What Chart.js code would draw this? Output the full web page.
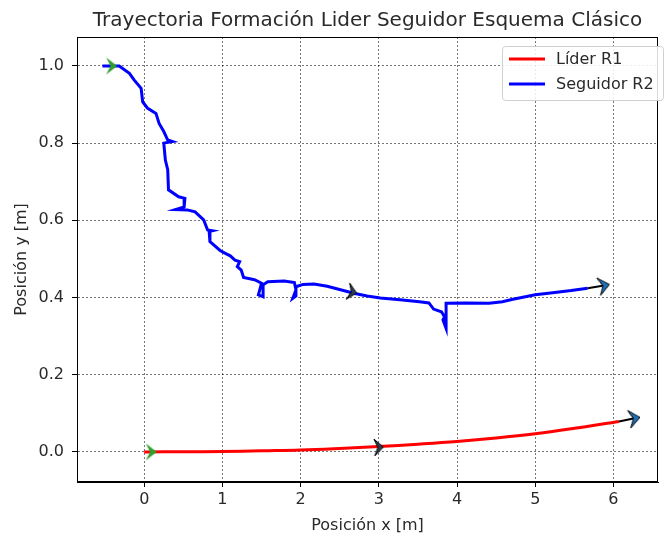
<!DOCTYPE html>
<html>
<head>
<meta charset="utf-8">
<script src="https://cdn.jsdelivr.net/npm/chart.js@4.4.1/dist/chart.umd.min.js"></script>
<style>
  body { margin: 0; background: #fff; }
  #wrap { width: 666px; height: 538px; }
</style>
</head>
<body>
<div id="wrap"><canvas id="trayectoria" width="666" height="538"></canvas></div>
<script>
// Trayectoria del líder (R1)
const liderX = [0, 0.5, 1, 1.5, 2, 2.5, 3, 3.5, 4, 4.5, 5, 5.5, 6.07];
const liderY = [0, 0.0005, 0.001, 0.003, 0.005, 0.009, 0.014, 0.02, 0.027, 0.036, 0.047, 0.061, 0.079];

// Trayectoria del seguidor (R2)
const seguidorX = [-0.535, -0.32, -0.19, -0.13, -0.04, -0.02, 0.04, 0.15, 0.19, 0.25, 0.30, 0.36, 0.25, 0.27, 0.30, 0.31,
  0.44, 0.52, 0.51, 0.40, 0.55, 0.65, 0.76, 0.81, 0.87, 0.83, 0.84, 0.97, 1.03, 1.10, 1.16, 1.22, 1.19, 1.24, 1.27,
  1.41, 1.50, 1.46, 1.52, 1.52, 1.58, 1.79, 1.92, 1.94, 1.90, 1.94, 1.94, 2.03, 2.17, 2.34, 2.51, 2.68, 2.85, 3.02,
  3.27, 3.52, 3.64, 3.70, 3.80, 3.84, 3.82, 3.86, 3.86, 3.86, 4.11, 4.41, 4.58, 4.70, 5.0, 5.25, 5.46, 5.67];
const seguidorY = [1.0, 1.0, 0.981, 0.964, 0.942, 0.907, 0.891, 0.877, 0.851, 0.830, 0.808, 0.804, 0.800, 0.756, 0.731, 0.679,
  0.661, 0.657, 0.635, 0.628, 0.627, 0.622, 0.601, 0.575, 0.573, 0.571, 0.545, 0.522, 0.515, 0.508, 0.497, 0.493, 0.480, 0.471, 0.452,
  0.446, 0.437, 0.407, 0.402, 0.433, 0.441, 0.443, 0.439, 0.420, 0.398, 0.404, 0.428, 0.434, 0.435, 0.429, 0.420, 0.411, 0.404, 0.399,
  0.394, 0.389, 0.386, 0.370, 0.363, 0.350, 0.342, 0.320, 0.350, 0.385, 0.386, 0.385, 0.389, 0.395, 0.407, 0.413, 0.418, 0.424];

// Flechas: inicio (verde), intermedia y final
const inicioX = [-0.417, 0.089];
const inicioY = [1.0, 0.0];
const medioX = [2.66, 3.0];
const medioY = [0.414, 0.012];
const finSegX = [5.67, 5.88];
const finSegY = [0.424, 0.431];
const finLidX = [6.07, 6.27];
const finLidY = [0.079, 0.087];

// Ticks
const xTicks = [0, 1, 2, 3, 4, 5, 6];
const yTicks = [0.0, 0.2, 0.4, 0.6, 0.8, 1.0];

const toPts = (xs, ys) => xs.map((x, i) => ({ x: x, y: ys[i] }));

// Cabeza de flecha estilo matplotlib
function cabeza(fill, edge, w, h) {
  const c = document.createElement("canvas");
  c.width = w + 2;
  c.height = h + 2;
  const g = c.getContext("2d");
  g.beginPath();
  g.moveTo(1, 1);
  g.lineTo(w + 1, h / 2 + 1);
  g.lineTo(1, h + 1);
  g.lineTo(w * 0.4 + 1, h / 2 + 1);
  g.closePath();
  g.fillStyle = fill;
  g.fill();
  if (edge) {
    g.strokeStyle = edge;
    g.lineWidth = 1;
    g.stroke();
  }
  return c;
}
const flechaVerde = cabeza("#2ca02c", null, 11, 17);
const flechaMedio = cabeza("#2c3e50", "#000", 9, 17);
const flechaFin = cabeza("#1f6fb4", "#000", 11, 18);

const FONT = "'DejaVu Sans', sans-serif";
const TXT = "#2a2a2a";

// Título, marco y leyenda dibujados a mano (estilo matplotlib)
const decoracion = {
  id: "decoracion",
  afterDraw(chart) {
    const ctx = chart.ctx;
    const a = chart.chartArea;
    ctx.save();
    ctx.strokeStyle = "#000";
    ctx.lineWidth = 1;
    ctx.strokeRect(a.left + 0.5, a.top + 0.5, a.right - a.left - 1, a.bottom - a.top - 1);

    ctx.fillStyle = TXT;
    ctx.font = "20px " + FONT;
    ctx.textAlign = "center";
    ctx.textBaseline = "middle";
    ctx.fillText("Trayectoria Formación Lider Seguidor Esquema Clásico", (a.left + a.right) / 2, 21);

    // leyenda
    const lx = 502, ly = 46, lw = 161, lh = 54;
    ctx.beginPath();
    ctx.roundRect(lx + 0.5, ly + 0.5, lw, lh, 3);
    ctx.fillStyle = "rgba(255,255,255,0.85)";
    ctx.fill();
    ctx.strokeStyle = "#d0d0d0";
    ctx.stroke();
    const items = [["Líder R1", "#ff0000", 59], ["Seguidor R2", "#0000ff", 84]];
    ctx.font = "16px " + FONT;
    ctx.textAlign = "left";
    items.forEach(([txt, col, y]) => {
      ctx.strokeStyle = col;
      ctx.lineWidth = 3;
      ctx.beginPath();
      ctx.moveTo(509, y);
      ctx.lineTo(545, y);
      ctx.stroke();
      ctx.fillStyle = TXT;
      ctx.fillText(txt, 556, y + 1);
    });
    ctx.restore();
  },
};

const grid = {
  color: "rgba(0,0,0,0.6)",
  lineWidth: 0.9,
  tickColor: "#000",
  tickLength: 5,
  tickWidth: 1,
};

new Chart(document.getElementById("trayectoria"), {
  type: "scatter",
  data: {
    datasets: [
      {
        label: "Inicio",
        data: toPts(inicioX, inicioY),
        pointStyle: flechaVerde,
        pointRadius: 6,
        order: 0,
      },
      {
        label: "Medio",
        data: toPts(medioX, medioY),
        pointStyle: flechaMedio,
        pointRadius: 6,
        rotation: [12, -3],
        order: 0,
      },
      {
        label: "Fin R2",
        data: toPts(finSegX, finSegY),
        showLine: true,
        borderColor: "#000",
        borderWidth: 2,
        pointStyle: flechaFin,
        pointRadius: [0, 6],
        rotation: -12,
        order: 0,
      },
      {
        label: "Fin R1",
        data: toPts(finLidX, finLidY),
        showLine: true,
        borderColor: "#000",
        borderWidth: 2,
        pointStyle: flechaFin,
        pointRadius: [0, 6],
        rotation: -10,
        order: 0,
      },
      {
        label: "Líder R1",
        data: toPts(liderX, liderY),
        showLine: true,
        borderColor: "#ff0000",
        borderWidth: 3,
        pointRadius: 0,
        tension: 0.4,
        order: 1,
      },
      {
        label: "Seguidor R2",
        data: toPts(seguidorX, seguidorY),
        showLine: true,
        borderColor: "#0000ff",
        borderWidth: 3,
        pointRadius: 0,
        tension: 0,
        order: 1,
      },
    ],
  },
  options: {
    responsive: false,
    animation: false,
    layout: { padding: { top: 37, right: 2, left: 0, bottom: 0 } },
    plugins: {
      legend: { display: false },
      tooltip: { enabled: false },
    },
    scales: {
      x: {
        type: "linear",
        min: -0.86,
        max: 6.57,
        afterBuildTicks: (s) => { s.ticks = xTicks.map((v) => ({ value: v })); },
        afterFit: (s) => { s.height = 56; },
        grid: grid,
        border: { display: true, color: "#000", dash: [2, 2] },
        ticks: { color: TXT, font: { family: FONT, size: 16 }, padding: 3, maxRotation: 0 },
        title: {
          display: true,
          text: "Posición x [m]",
          color: TXT,
          font: { family: FONT, size: 16 },
          padding: { top: 0, bottom: 3 },
        },
      },
      y: {
        type: "linear",
        min: -0.078,
        max: 1.075,
        afterBuildTicks: (s) => { s.ticks = yTicks.map((v) => ({ value: v })); },
        afterFit: (s) => { s.width = 77; },
        grid: grid,
        border: { display: true, color: "#000", dash: [2, 2] },
        ticks: {
          color: TXT,
          font: { family: FONT, size: 16 },
          padding: 8,
          callback: (v) => Number(v).toFixed(1),
        },
        title: {
          display: true,
          text: "Posición y [m]",
          color: TXT,
          font: { family: FONT, size: 16 },
          padding: { top: 12, bottom: 0 },
        },
      },
    },
  },
  plugins: [decoracion],
});
</script>
</body>
</html>
